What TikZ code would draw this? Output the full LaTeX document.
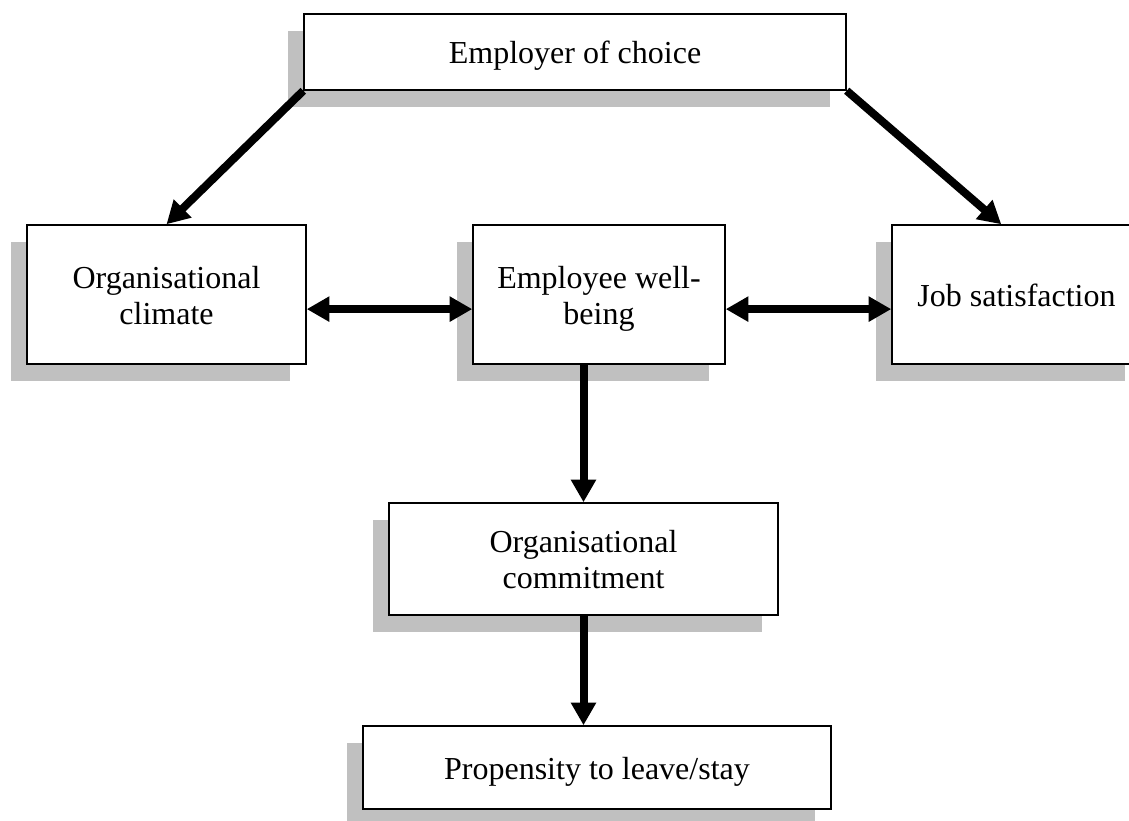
\documentclass[tikz,border=0pt]{standalone}
\usepackage{fontspec}
\setmainfont{Liberation Serif}
\usetikzlibrary{arrows.meta,shadows,calc}
\definecolor{shadowgray}{HTML}{C0C0C0}

\begin{document}
\begin{tikzpicture}[x=0.75pt,y=-0.75pt,
  box/.style={draw=black, line width=1.1pt, fill=white, rectangle, inner sep=0pt,
    align=center, text height=22.5pt, text depth=5.25pt,
    font=\fontsize{24pt}{27pt}\selectfont,
    drop shadow={shadow xshift=-12pt, shadow yshift=-12.75pt, fill=shadowgray, opacity=1}},
  twolines/.style={text height=49.5pt},
  flow/.style={line width=6pt, -{Triangle[length=17pt,width=18pt]}},
  twoway/.style={line width=6pt, {Triangle[length=17pt,width=18pt]}-{Triangle[length=17pt,width=18pt]}}]

% page area
\clip (0,0) rectangle (1129,821);

% boxes
\node[box, minimum width=406.5pt, minimum height=57pt] (top) at (575,52) {Employer of choice};
\node[box, twolines, minimum width=209.25pt, minimum height=104.25pt] (clim) at (166.5,294.5) {Organisational\\climate};
\node[box, twolines, minimum width=189pt, minimum height=104.25pt] (wb) at (599,294.5) {Employee well-\\being};
\node[box, minimum width=186.75pt, minimum height=104.25pt] (job) at (1016.5,294.5) {Job satisfaction};
\node[box, twolines, minimum width=291.75pt, minimum height=84pt] (com) at (583.5,559) {Organisational\\commitment};
\node[box, minimum width=351pt, minimum height=62.25pt] (prop) at (597,767.5) {Propensity to leave/stay};

% connector end points
\coordinate (jobin) at ($(job.north west)+(110,0)$);
\coordinate (cl) at ($(clim.north east)!0.604!(clim.south east)$);
\coordinate (wr) at ($(wb.north east)!0.604!(wb.south east)$);

% connectors
\draw[flow] (top.south west) -- (clim.north);
\draw[flow] (top.south east) -- (jobin);
\draw[twoway] (cl) -- (cl -| wb.west);
\draw[twoway] (wr) -- (wr -| job.west);
\draw[flow] (com.north |- wb.south) -- (com.north);
\draw[flow] (com.south) -- (com.south |- prop.north);
\end{tikzpicture}
\end{document}
